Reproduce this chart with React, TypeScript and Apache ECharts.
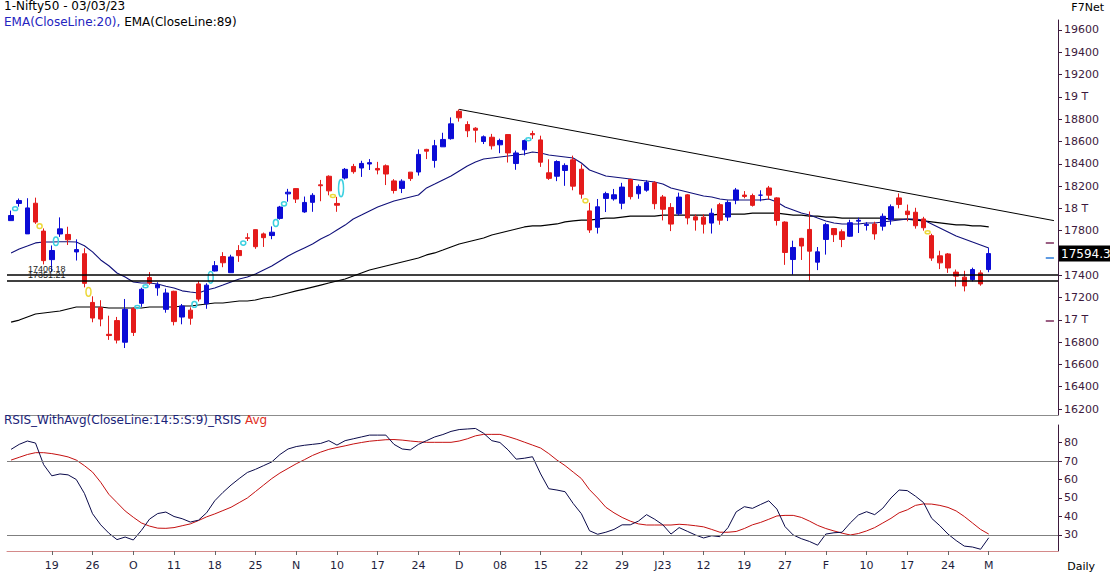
import React, { useEffect, useRef } from "react";
import * as echarts from "echarts";

// ---------- DATA ----------
const dates = [
  "2022-09-12","2022-09-13","2022-09-14","2022-09-15","2022-09-16",
  "2022-09-19","2022-09-20","2022-09-21","2022-09-22","2022-09-23",
  "2022-09-26","2022-09-27","2022-09-28","2022-09-29","2022-09-30",
  "2022-10-03","2022-10-04","2022-10-06","2022-10-07","2022-10-10",
  "2022-10-11","2022-10-12","2022-10-13","2022-10-14","2022-10-17",
  "2022-10-18","2022-10-19","2022-10-20","2022-10-21","2022-10-24",
  "2022-10-25","2022-10-27","2022-10-28","2022-10-31","2022-11-01",
  "2022-11-02","2022-11-03","2022-11-04","2022-11-07","2022-11-09",
  "2022-11-10","2022-11-11","2022-11-14","2022-11-15","2022-11-16",
  "2022-11-17","2022-11-18","2022-11-21","2022-11-22","2022-11-23",
  "2022-11-24","2022-11-25","2022-11-28","2022-11-29","2022-11-30",
  "2022-12-01","2022-12-02","2022-12-05","2022-12-06","2022-12-07",
  "2022-12-08","2022-12-09","2022-12-12","2022-12-13","2022-12-14",
  "2022-12-15","2022-12-16","2022-12-19","2022-12-20","2022-12-21",
  "2022-12-22","2022-12-23","2022-12-26","2022-12-27","2022-12-28",
  "2022-12-29","2022-12-30","2023-01-02","2023-01-03","2023-01-04",
  "2023-01-05","2023-01-06","2023-01-09","2023-01-10","2023-01-11",
  "2023-01-12","2023-01-13","2023-01-16","2023-01-17","2023-01-18",
  "2023-01-19","2023-01-20","2023-01-23","2023-01-24","2023-01-25",
  "2023-01-27","2023-01-30","2023-01-31","2023-02-01","2023-02-02",
  "2023-02-03","2023-02-06","2023-02-07","2023-02-08","2023-02-09",
  "2023-02-10","2023-02-13","2023-02-14","2023-02-15","2023-02-16",
  "2023-02-17","2023-02-20","2023-02-21","2023-02-22","2023-02-23",
  "2023-02-24","2023-02-27","2023-02-28","2023-03-01","2023-03-02",
  "2023-03-03"
];

const opens = [
  17890,18044,17771,18046,17796,17540,17770,17766,17609,17593,
  17156,17110,16870,16993,16799,17102,17148,17379,17287,17094,
  17256,17025,17087,17322,17144,17438,17568,17423,17622,17736,
  17809,17771,17756,17910,18130,18177,17968,18054,18211,18288,
  18044,18272,18376,18362,18398,18358,18382,18246,18179,18325,
  18326,18529,18430,18552,18625,18871,18752,18719,18600,18638,
  18570,18662,18402,18525,18671,18614,18319,18288,18340,18435,
  18351,17977,17830,18089,18085,18046,18259,18131,18163,18230,
  18102,18008,17952,18121,17924,17921,17868,18033,17922,18074,
  18119,18115,18118,18183,18094,17877,17541,17731,17811,17517,
  17721,17819,17790,17750,17885,17847,17859,17840,17897,18094,
  17975,17965,17905,17755,17574,17591,17428,17383,17360,17421,
  17451
];

const highs = [
  17980,18088,18091,18096,17820,17667,17919,17835,17722,17642,
  17211,17176,17037,17026,17187,17114,17288,17428,17337,17280,
  17261,17142,17112,17348,17328,17527,17607,17584,17670,17777,
  17811,17783,17838,18022,18175,18178,18106,18136,18255,18296,
  18103,18362,18399,18427,18442,18417,18394,18262,18261,18325,
  18529,18534,18614,18678,18816,18888,18781,18728,18654,18668,
  18625,18664,18518,18617,18696,18652,18440,18431,18404,18473,
  18394,18050,18084,18149,18174,18229,18265,18215,18252,18244,
  18120,18047,18141,18127,17945,17946,17999,18049,18072,18183,
  18155,18132,18162,18201,18100,17884,17710,17735,17972,17653,
  17870,17823,17811,17898,17916,17876,17880,17954,18035,18134,
  18034,18005,17924,17772,17620,17599,17451,17440,17468,17445,
  17644
];

const lows = [
  17889,18015,17771,17861,17497,17429,17744,17671,17532,17291,
  16978,16942,16820,16788,16747,16855,17117,17315,17216,17064,
  16950,16960,16956,17165,17099,17434,17472,17421,17520,17707,
  17637,17654,17723,17899,18060,18048,17960,17969,18064,18117,
  17969,18259,18311,18282,18344,18305,18209,18133,18137,18246,
  18294,18442,18365,18552,18616,18778,18639,18591,18577,18528,
  18495,18411,18346,18475,18623,18372,18255,18244,18202,18162,
  18087,17780,17774,17967,18069,17992,18080,18086,18149,17992,
  17892,17796,17936,17856,17800,17774,17774,17853,17886,18037,
  18090,18016,18063,18078,17846,17493,17405,17537,17353,17446,
  17585,17698,17652,17744,17779,17801,17719,17800,17853,18000,
  17884,17818,17800,17529,17455,17421,17299,17255,17345,17306,
  17427
];

const closes = [
  17936,18070,18004,17877,17531,17622,17816,17718,17630,17327,
  17016,17007,16859,16818,17094,16887,17274,17331,17315,17241,
  16984,17124,17014,17186,17311,17486,17512,17564,17576,17731,
  17656,17737,17786,18012,18145,18083,18053,18117,18203,18157,
  18028,18350,18329,18403,18410,18344,18308,18160,18244,18267,
  18484,18513,18562,18618,18758,18812,18696,18701,18642,18561,
  18609,18497,18497,18608,18660,18414,18269,18420,18385,18199,
  18127,17806,18014,18132,18122,18191,18105,18197,18232,18042,
  17992,17859,18101,17914,17895,17858,17956,17894,18053,18165,
  18107,18027,18118.3,18118,17891,17604,17649,17662,17616,17610,
  17854,17764,17721,17871,17893,17856,17771,17929,18015,18035,
  17944,17844,17826,17554,17511,17465,17392,17304,17451,17322,
  17594.35
];

const ema20 = [
  17600,17635,17662,17690,17698,17698,17700,17700,17698,17665,
  17610,17537,17485,17420,17385,17340,17330,17330,17322,17302,
  17285,17260,17250,17241,17267,17285,17312,17340,17366,17384,
  17411,17447,17483,17528,17573,17610,17645,17680,17725,17760,
  17805,17850,17905,17940,17976,18012,18040,18066,18084,18102,
  18120,18183,18218,18254,18290,18335,18380,18416,18443,18452,
  18461,18470,18479,18488,18506,18497,18479,18470,18461,18452,
  18407,18344,18317,18290,18281,18272,18263,18254,18245,18236,
  18218,18183,18165,18147,18129,18111,18102,18084,18075,18075,
  18075,18075,18075,18084,18057,18012,17985,17958,17940,17913,
  17887,17869,17860,17860,17860,17869,17869,17878,17887,17895,
  17904,17904,17895,17860,17824,17788,17752,17725,17698,17671,
  17644
];

const ema89 = [
  16980,16998,17025,17052,17061,17070,17079,17097,17115,17115,
  17115,17115,17106,17106,17106,17106,17106,17115,17115,17115,
  17115,17124,17124,17133,17142,17151,17151,17160,17169,17169,
  17178,17196,17205,17223,17241,17259,17276,17294,17312,17330,
  17348,17366,17393,17420,17447,17465,17483,17501,17519,17537,
  17555,17582,17600,17626,17653,17680,17698,17716,17734,17761,
  17779,17797,17815,17833,17842,17842,17851,17860,17878,17887,
  17895,17895,17904,17913,17913,17922,17931,17931,17931,17931,
  17940,17940,17940,17940,17940,17940,17940,17949,17949,17949,
  17949,17958,17958,17958,17958,17949,17940,17940,17931,17931,
  17922,17922,17913,17913,17913,17913,17913,17913,17904,17904,
  17904,17895,17887,17878,17869,17860,17851,17851,17842,17842,
  17833
];

const rsi = [
  76.3,79,80.8,79.7,68,62,63,62.5,60,52.5,
  41.5,35.5,31,27.5,28.9,27.3,32.5,38.6,41.6,42.4,
  40,38.8,37,38,42,48.5,53,57,60.5,63.8,
  65.5,67.5,69.5,73.5,76.5,77.8,78.5,79,79.5,81,
  78.6,81,82,83,84,84,84,79,76.5,76,
  79,81,83,84.3,86,87,87.3,87.6,85,81,
  80,76,71,71.5,72.3,63,55,54.3,53.4,47,
  41.5,32.3,30.4,31.5,33,35.5,35.5,37.5,41,38.5,
  35.5,30.5,34,32,30,28.4,29.6,29.1,34,42.5,
  45.3,44.4,46.5,48.5,44,34.5,30,28,26.5,24.5,
  30.5,31.2,31.5,36.5,40.8,42.6,41,44.5,50,54.3,
  54,51,47.5,39,35,30.5,27,24,23.5,22.3,
  28.5
];

const rsiAvg = [
  70.5,72,73.5,74.5,74.5,74,73.2,72.2,70.5,67.5,
  64,58.5,52,47.5,43,39.6,36.5,34.8,33.7,33.6,
  34,35,36,37.8,39.8,41.4,43.2,45,47.5,50,
  53.5,57,60.5,63.5,66,68.5,70.7,73,74.8,76.3,
  77.3,78.2,79.2,80,80.7,81.1,81.5,81.6,81.3,80.8,
  80.4,80.1,80.1,80.1,80.1,80.8,82,83.6,84.4,84.4,
  84.4,83.2,81.8,80.2,78.6,77,74,70.5,67.5,64,
  60.5,54.5,50,45,42,39.5,37.5,36,35.4,35.4,
  35.4,35.4,35.8,35.5,35,34.4,33,31.5,31.5,31.9,
  33.5,35.5,36.8,38.5,40.3,40.6,40.6,39.5,37.5,35.2,
  33.5,32.2,31,30,30.8,32.2,34,36.5,39,42,
  43.6,46,46.8,46.7,46,44.9,43,40,36.5,33,
  30.5
];

const supportLevels = [17406.18, 17351.21];
const trendPoints = [[55, 18888], [128, 17890]];
const rsiLevels = [70, 30];
const rightMarkers = [
  { value: 17690, color: "#7a2a5a" },
  { value: 17555, color: "#2a7ad8" },
  { value: 16990, color: "#7a2a5a" },
];

const priceTickValues = [
  16200,16400,16600,16800,17000,17200,17400,17600,17800,
  18000,18200,18400,18600,18800,19000,19200,19400,19600
];
const rsiTickValues = [30, 40, 50, 60, 70, 80];
const xTickLabels = [
  "19","26","O","11","18","25","N","10","17","24","D","08",
  "15","22","29","J23","12","19","27","F","10","17","24","M"
];

// ---------- CHART ----------
const PAD = 8;
const FONT = "DejaVu Sans";
const AXIS_COLOR = "#3d1a3d";

export default function App() {
  const ref = useRef<HTMLDivElement>(null);

  useEffect(() => {
    if (!ref.current) return;
    const chart = echarts.init(ref.current, null, { renderer: "svg" });

    const n = dates.length;
    const slots = n + PAD;
    const categories = [...dates, ...Array.from({ length: PAD }, (_, k) => "pad" + k)];
    const candles = dates.map((_, i) => [opens[i], closes[i], lows[i], highs[i]]);

    const sparse = (pairs: number[][]) => {
      const arr: (number | null)[] = new Array(slots).fill(null);
      pairs.forEach(([i, v]) => (arr[i] = v));
      return arr;
    };

    const gapData: number[][] = [];
    for (let i = 1; i < n; i++) {
      if (lows[i] > highs[i - 1]) gapData.push([i, lows[i], highs[i - 1], 1]);
      else if (highs[i] < lows[i - 1]) gapData.push([i, lows[i - 1], highs[i], 0]);
    }

    const tickFn = (index: number) => index >= 5 && index < n && (index - 5) % 5 === 0;
    const titleBase = { padding: 0, textStyle: { fontSize: 11, fontWeight: "normal", color: "#000", fontFamily: FONT } };

    const option: any = {
      animation: false,
      backgroundColor: "#ffffff",
      textStyle: { fontFamily: FONT },
      title: [
        { padding: 0, text: "1-Nifty50 - 03/03/23", left: 4, top: 0,
          textStyle: { fontSize: 12, fontWeight: "normal", color: "#000", fontFamily: FONT } },
        { padding: 0, text: "{a|EMA(CloseLine:20),} {b|EMA(CloseLine:89)}", left: 4, top: 16,
          textStyle: { fontSize: 12, fontWeight: "normal", fontFamily: FONT,
            rich: { a: { color: "#2424c0", fontSize: 12, fontFamily: FONT },
                    b: { color: "#000", fontSize: 12, fontFamily: FONT } } } },
        { padding: 0, text: "{a|RSIS_WithAvg(CloseLine:14:5:S:9)_RSIS} {b|Avg}", left: 4, top: 414,
          textStyle: { fontSize: 12, fontWeight: "normal", fontFamily: FONT,
            rich: { a: { color: "#1a2378", fontSize: 12, fontFamily: FONT },
                    b: { color: "#e0301e", fontSize: 12, fontFamily: FONT } } } },
        { ...titleBase, text: "F7Net", right: 6, top: 2 },
        { ...titleBase, text: "Daily", right: 15, top: 561 },
      ],
      grid: [
        { left: 7, right: 52, top: 20, height: 395, outerBoundsMode: "none", containLabel: false },
        { left: 7, right: 52, top: 425, height: 126, outerBoundsMode: "none", containLabel: false },
      ],
      xAxis: [
        { type: "category", gridIndex: 0, data: categories, boundaryGap: true,
          axisLine: { show: true, lineStyle: { color: "#8c8c8c" } },
          axisTick: { show: false }, axisLabel: { show: false }, splitLine: { show: false } },
        { type: "category", gridIndex: 1, data: categories, boundaryGap: true,
          axisLine: { show: true, lineStyle: { color: "#d48a8a" } },
          axisTick: { show: true, alignWithLabel: true, interval: tickFn, length: 4,
            lineStyle: { color: "#666" } },
          axisLabel: { show: true, interval: tickFn, margin: 9, fontSize: 11, fontFamily: FONT,
            color: "#1e1e3c",
            formatter: (_v: string, idx: number) => xTickLabels[(idx - 5) / 5] ?? "" },
          splitLine: { show: false } },
      ],
      yAxis: [
        { type: "value", gridIndex: 0, position: "right", min: 16146.2, max: 19689.7,
          axisLine: { show: true, lineStyle: { color: AXIS_COLOR } },
          axisTick: { show: true, customValues: priceTickValues, length: 4,
            lineStyle: { color: AXIS_COLOR } },
          axisLabel: { show: true, customValues: priceTickValues, margin: 6, fontSize: 11,
            fontFamily: FONT, color: AXIS_COLOR,
            formatter: (v: number) => (v % 1000 === 0 ? v / 1000 + " T" : String(v)) },
          splitLine: { show: false } },
        { type: "value", gridIndex: 0, position: "right", min: 16146.2, max: 19689.7,
          axisLine: { show: false }, axisTick: { show: false }, splitLine: { show: false },
          axisLabel: { show: true, customValues: [closes[n - 1]], margin: 1, fontSize: 12,
            fontFamily: FONT, color: "#fff", backgroundColor: "#000", padding: [2, 4, 2, 2],
            formatter: (v: number) => (Math.floor(v * 10) / 10).toFixed(1) } },
        { type: "value", gridIndex: 1, position: "right", min: 21.35, max: 89.46,
          axisLine: { show: true, lineStyle: { color: AXIS_COLOR } },
          axisTick: { show: true, customValues: rsiTickValues, length: 4,
            lineStyle: { color: AXIS_COLOR } },
          axisLabel: { show: true, customValues: rsiTickValues, margin: 6, fontSize: 11,
            fontFamily: FONT, color: AXIS_COLOR },
          splitLine: { show: false } },
      ],
      series: [
        { name: "EMA89", type: "line", xAxisIndex: 0, yAxisIndex: 0, data: ema89,
          symbol: "none", lineStyle: { color: "#000", width: 1.2 }, silent: true, z: 2 },
        { name: "EMA20", type: "line", xAxisIndex: 0, yAxisIndex: 0, data: ema20,
          symbol: "none", lineStyle: { color: "#10107a", width: 1.1 }, silent: true, z: 2 },
        { name: "Trend", type: "line", xAxisIndex: 0, yAxisIndex: 0, data: sparse(trendPoints),
          connectNulls: true, symbol: "none", lineStyle: { color: "#000", width: 1 }, silent: true, z: 2 },
        ...rightMarkers.map((m, k) => ({
          name: "marker" + k, type: "line", xAxisIndex: 0, yAxisIndex: 0,
          data: sparse([[n + PAD - 2, m.value], [n + PAD - 1, m.value]]),
          symbol: "none", lineStyle: { color: m.color, width: 1.5 }, silent: true, z: 2,
        })),
        { name: "Nifty50", type: "candlestick", xAxisIndex: 0, yAxisIndex: 0, data: candles,
          barWidth: 5, z: 3,
          itemStyle: { color: "#0b0bd6", color0: "#e41b1b", borderColor: "#0b0bd6",
            borderColor0: "#e41b1b", borderWidth: 1 },
          markLine: { symbol: "none", silent: true, animation: false,
            lineStyle: { color: "#000", width: 1.5, type: "solid" },
            label: { show: true, position: "insideStartTop", distance: [21, 1], fontSize: 9,
              fontFamily: "Liberation Sans", color: "#222",
              formatter: (p: any) => Number(p.value).toFixed(2) },
            data: supportLevels.map((v) => ({ yAxis: v })) } },
        { name: "gaps", type: "custom", xAxisIndex: 0, yAxisIndex: 0, data: gapData, z: 4,
          silent: true, encode: { x: 0, y: [1, 2] },
          renderItem: (_params: any, api: any) => {
            const i = api.value(0);
            const pTop = api.coord([i, api.value(1)]);
            const pBot = api.coord([i, api.value(2)]);
            const pPrev = api.coord([i - 1, api.value(1)]);
            const cx = (pTop[0] + pPrev[0]) / 2;
            const cy = (pTop[1] + pBot[1]) / 2;
            const ry = Math.max(1.5, (pBot[1] - pTop[1]) / 2);
            return { type: "ellipse", shape: { cx, cy, rx: 2.5, ry },
              style: { fill: "none", stroke: api.value(3) ? "#3cd0e0" : "#ecd83a", lineWidth: 1.5 } };
          } },
        { name: "RSIS", type: "line", xAxisIndex: 1, yAxisIndex: 2, data: rsi, symbol: "none",
          lineStyle: { color: "#0a0a4a", width: 1 }, silent: true, z: 3,
          markLine: { symbol: "none", silent: true, animation: false,
            lineStyle: { color: "#7f7f7f", width: 1, type: "solid" }, label: { show: false },
            data: rsiLevels.map((v) => ({ yAxis: v })) } },
        { name: "Avg", type: "line", xAxisIndex: 1, yAxisIndex: 2, data: rsiAvg, symbol: "none",
          lineStyle: { color: "#c41010", width: 1 }, silent: true, z: 2 },
      ],
    };

    chart.setOption(option);
    return () => chart.dispose();
  }, []);

  return (
    <div
      ref={ref}
      style={{ position: "absolute", left: 0, top: 0, width: 1110, height: 576, background: "#fff" }}
    />
  );
}
